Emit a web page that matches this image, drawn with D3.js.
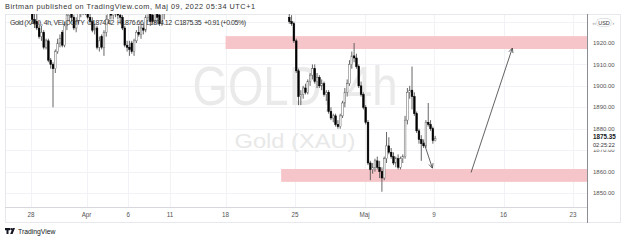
<!DOCTYPE html>
<html>
<head>
<meta charset="utf-8">
<script src="https://cdn.jsdelivr.net/npm/d3@7"></script>
<style>
  body { margin: 0; background: #fff; }
  svg { display: block; font-family: "Liberation Sans", Arial, sans-serif; }
</style>
</head>
<body>
<div id="chart"></div>
<script>
// ---- data ----
const holidays = ["2022-04-15"];
const timeTicks = [
  ["2022-03-28", "28"], ["2022-04-01", "Apr"], ["2022-04-06", "6"], ["2022-04-11", "11"],
  ["2022-04-18", "18"], ["2022-04-25", "25"], ["2022-05-02", "Maj"], ["2022-05-09", "9"],
  ["2022-05-16", "16"], ["2022-05-23", "23"]
];
const priceTicks = [1930, 1920, 1910, 1900, 1890, 1880, 1870, 1860, 1850];

// 4h candles [open, high, low, close]; bars above the pane are clipped
const seg1Start = ["2022-03-28", 0];
const seg1Bars = [
  [1936,1937,1929,1931],[1931,1934,1927,1929],[1930,1934,1926,1927],[1927,1929,1922,1923],[1923,1928,1921,1925],[1925,1926,1917,1918],
  [1918,1922,1917,1921],[1921,1922,1911,1912],[1912,1913,1908,1910],[1910,1911,1890,1908],[1908,1917,1906,1916],[1916,1922,1915,1920],
  [1920,1924,1918,1922],[1925,1926,1918,1919],[1919,1930,1918,1928],[1928,1935,1926,1933],[1933,1938,1930,1935],[1935,1937,1930,1932],
  [1932,1933,1926,1927],[1927,1932,1925,1930],[1930,1936,1929,1934],[1934,1940,1932,1938],[1938,1942,1933,1935],[1935,1940,1933,1937],
  [1937,1938,1931,1932],[1932,1934,1929,1930],[1930,1932,1925,1926],[1926,1929,1924,1927],[1927,1928,1917,1918],[1918,1923,1916,1921],
  [1923,1924,1917,1918],[1918,1926,1914,1925],[1925,1933,1923,1931],[1931,1936,1929,1934],[1934,1938,1931,1933],[1933,1937,1931,1935],
  [1935,1940,1932,1936],[1936,1939,1931,1933],[1933,1936,1929,1932],[1932,1933,1926,1927],[1927,1928,1918,1919],[1919,1921,1916,1918],
  [1918,1921,1914,1917],[1920,1921,1915,1916],[1916,1922,1914,1921],[1921,1926,1920,1925],[1925,1928,1923,1924],[1924,1929,1922,1927],
  [1927,1929,1924,1926],[1926,1933,1925,1932],[1932,1937,1930,1935],[1935,1936,1928,1930],[1933,1935,1929,1930],[1930,1935,1929,1934],
  [1934,1938,1929,1932],[1933,1935,1928,1929],[1929,1935,1928,1934],[1934,1940,1931,1938],[1938,1945,1936,1943]
];
const seg2Start = ["2022-04-22", 3];
const seg2Bars = [
  [1932,1934,1929,1930],[1930,1933,1928,1929],[1929,1930,1920,1921],
  [1921,1922,1906,1907],[1907,1908,1891,1895],[1895,1898,1891,1896],[1896,1900,1894,1899],[1899,1901,1896,1897],[1897,1903,1896,1902],
  [1902,1906,1900,1905],[1905,1910,1903,1908],[1908,1910,1901,1902],[1902,1906,1899,1904],[1904,1905,1899,1900],[1900,1903,1898,1901],
  [1901,1902,1895,1896],[1896,1898,1893,1897],[1897,1898,1887,1888],[1888,1890,1884,1885],[1885,1887,1883,1886],[1886,1887,1881,1882],
  [1882,1884,1880,1881],[1881,1887,1880,1886],[1886,1893,1885,1892],[1892,1899,1890,1897],[1897,1903,1895,1901],[1901,1912,1900,1910],
  [1910,1916,1908,1914],[1914,1920,1911,1913],[1913,1915,1908,1909],[1909,1910,1899,1900],[1900,1902,1895,1896],[1896,1897,1889,1890],
  [1890,1891,1882,1883],[1883,1884,1863,1864],[1864,1865,1856,1861],[1861,1864,1859,1862],[1862,1866,1860,1865],[1865,1867,1861,1862],
  [1862,1865,1857,1860],[1860,1862,1850.6,1857],[1857,1867,1856,1866],[1866,1878.5,1864,1872],[1872,1876,1868,1869],[1869,1871,1866,1867],
  [1867,1869,1863,1864],[1864,1867,1862,1866],[1866,1868,1861,1862],[1862,1867,1861,1866],[1866,1868,1864,1867],[1867,1886,1866,1884],
  [1884,1899,1882,1897],[1897,1900,1894,1898],[1898,1909,1889,1895],[1895,1897,1886,1887],[1887,1888,1878,1879],[1879,1880,1873,1875],
  [1875,1877,1865,1873],[1873,1875,1871,1872],[1872,1884,1871,1883],[1883,1892,1881,1882],[1882,1884,1879,1880],[1880,1881,1873,1874.42],
  [1874.42,1876.66,1874.12,1875.35]
];

// drawn zones [start day, top price, bottom price] extended to the right
const zoneStarts = ["2022-04-18", "2022-04-22"];
const zoneTops = [1923.2, 1861.2];
const zoneBottoms = [1917.2, 1855.2];

// drawn arrows [day, bar, price] -> [day, bar, price]
const arrowFrom = [["2022-05-06", 1, 1874], ["2022-05-11", 3.5, 1859.6]];
const arrowTo = [["2022-05-06", 4.8, 1861.6], ["2022-05-16", 3.3, 1917.6]];

const lastPrice = 1875.35;
const countdown = "02:25:22";
const headerText = "Birtman published on TradingView.com, Maj 09, 2022 05:34 UTC+1";
const legendText = "Gold (XAU), 4h, VELOCITY  O1874.42  H1876.66  L1874.12  C1875.35  +0.91 (+0.05%)";

// ---- layout ----
const W = 625, H = 240;
const pane = { left: 5, right: 587, top: 14, bottom: 207 };
const axisBottom = 222, frameRight = 620;

const fmt = d3.utcFormat("%Y-%m-%d");
const days = d3.utcDay.range(new Date(Date.UTC(2022, 2, 21)), new Date(Date.UTC(2022, 5, 1)))
  .filter(d => d.getUTCDay() !== 0 && d.getUTCDay() !== 6 && !holidays.includes(fmt(d)))
  .map(fmt);
const dayIdx = Object.fromEntries(days.map((d, i) => [d, i]));

const x = d3.scaleLinear()
  .domain([dayIdx["2022-03-28"], dayIdx["2022-05-23"]])
  .range([31, 573]);
const y = d3.scaleLinear().domain([1850, 1920]).range([193, 43]);
const barX = (day, bar) => x(dayIdx[day] + (bar + 0.5) / 6);

const candles = [];
[[seg1Start, seg1Bars], [seg2Start, seg2Bars]].forEach(([start, bars]) => {
  const base = dayIdx[start[0]] * 6 + start[1];
  bars.forEach((b, k) => candles.push({ pos: base + k, o: b[0], h: b[1], l: b[2], c: b[3] }));
});

const svg = d3.select("#chart").append("svg").attr("width", W).attr("height", H);

svg.append("defs").append("clipPath").attr("id", "pane")
  .append("rect").attr("x", pane.left).attr("y", pane.top)
  .attr("width", pane.right - pane.left).attr("height", pane.bottom - pane.top);

// header
svg.append("text").attr("x", 5).attr("y", 9).attr("font-size", 7.3).attr("fill", "#333")
  .attr("textLength", 250).attr("lengthAdjust", "spacing")
  .text(headerText);

// frame + grid
const grid = svg.append("g").attr("clip-path", "url(#pane)");
grid.selectAll(".hg").data(priceTicks).join("line")
  .attr("x1", pane.left).attr("x2", pane.right)
  .attr("y1", d => Math.round(y(d)) + 0.5).attr("y2", d => Math.round(y(d)) + 0.5)
  .attr("stroke", "#f0f2f6");
grid.selectAll(".vg").data(timeTicks).join("line")
  .attr("x1", d => Math.round(x(dayIdx[d[0]])) + 0.5).attr("x2", d => Math.round(x(dayIdx[d[0]])) + 0.5)
  .attr("y1", pane.top).attr("y2", pane.bottom)
  .attr("stroke", "#f0f2f6");

svg.append("rect").attr("x", pane.left + 0.5).attr("y", pane.top + 0.5)
  .attr("width", frameRight - pane.left).attr("height", axisBottom - pane.top)
  .attr("fill", "none").attr("stroke", "#e6e8ee");
svg.append("line").attr("x1", pane.left).attr("x2", pane.right)
  .attr("y1", pane.bottom + 0.5).attr("y2", pane.bottom + 0.5).attr("stroke", "#d6d8de");
svg.append("line").attr("x1", pane.right + 0.5).attr("x2", pane.right + 0.5)
  .attr("y1", pane.top).attr("y2", axisBottom + 1).attr("stroke", "#8a8d94");

// watermark
svg.append("text").attr("x", 295).attr("y", 105).attr("text-anchor", "middle")
  .attr("font-size", 55).attr("fill", "#eaeaea")
  .attr("textLength", 205).attr("lengthAdjust", "spacingAndGlyphs")
  .text("GOLD, 4h");
svg.append("text").attr("x", 295).attr("y", 148).attr("text-anchor", "middle")
  .attr("font-size", 21).attr("fill", "#e8e8e8")
  .attr("textLength", 121).attr("lengthAdjust", "spacingAndGlyphs")
  .text("Gold (XAU)");

// zones
const chart = svg.append("g").attr("clip-path", "url(#pane)");
chart.selectAll(".zone").data(zoneStarts).join("rect")
  .attr("x", d => x(dayIdx[d]))
  .attr("width", d => pane.right - x(dayIdx[d]))
  .attr("y", (d, i) => y(zoneTops[i]))
  .attr("height", (d, i) => y(zoneBottoms[i]) - y(zoneTops[i]))
  .attr("fill", "#f6c5c9");

// legend text (under candles)
svg.append("text").attr("x", 10).attr("y", 25).attr("font-size", 7).attr("fill", "#333")
  .attr("xml:space", "preserve")
  .attr("textLength", 236).attr("lengthAdjust", "spacing")
  .text(legendText);

// candles
const bw = 1.7;
const cg = chart.append("g");
cg.selectAll(".wick").data(candles).join("line")
  .attr("x1", d => x((d.pos + 0.5) / 6)).attr("x2", d => x((d.pos + 0.5) / 6))
  .attr("y1", d => y(d.h)).attr("y2", d => y(d.l))
  .attr("stroke", "#555").attr("stroke-width", 0.9);
cg.selectAll(".body").data(candles).join("rect")
  .attr("x", d => x((d.pos + 0.5) / 6) - bw / 2)
  .attr("width", bw)
  .attr("y", d => y(Math.max(d.o, d.c)))
  .attr("height", d => Math.max(0.8, Math.abs(y(d.o) - y(d.c))))
  .attr("fill", d => d.c >= d.o ? "#fff" : "#000")
  .attr("stroke", d => d.c >= d.o ? "#666" : "#000")
  .attr("stroke-width", 0.5);

// arrows
arrowFrom.forEach((f, i) => {
  const t = arrowTo[i];
  const x1 = barX(f[0], f[1]), y1 = y(f[2]);
  const x2 = barX(t[0], t[1]), y2 = y(t[2]);
  const g = chart.append("g").attr("stroke", "#3a3a3a").attr("stroke-width", 0.8).attr("fill", "none");
  g.append("line").attr("x1", x1).attr("y1", y1).attr("x2", x2).attr("y2", y2);
  const a = Math.atan2(y2 - y1, x2 - x1);
  [Math.PI - 0.45, Math.PI + 0.45].forEach(da => {
    g.append("line").attr("x1", x2).attr("y1", y2)
      .attr("x2", x2 + 5 * Math.cos(a + da)).attr("y2", y2 + 5 * Math.sin(a + da));
  });
});

// price axis
const pa = svg.append("g").attr("font-size", 6).attr("fill", "#555");
pa.selectAll("text").data(priceTicks.filter(p => p !== 1930)).join("text")
  .attr("x", 593).attr("y", d => y(d) + 2.2).text(d => d.toFixed(2));

// last price label, partly covering the 1870 tick
svg.append("rect").attr("x", pane.right + 1).attr("y", y(lastPrice) - 6)
  .attr("width", 30).attr("height", 17).attr("fill", "#fff");
svg.append("text").attr("x", 593).attr("y", y(lastPrice) + 0.5)
  .attr("font-size", 6.3).attr("font-weight", "bold").attr("fill", "#131722")
  .text(lastPrice.toFixed(2));
svg.append("text").attr("x", 593).attr("y", y(lastPrice) + 8)
  .attr("font-size", 5.6).attr("fill", "#333").text(countdown);

// currency badge
svg.append("rect").attr("x", 596.5).attr("y", 18.5).attr("width", 15).attr("height", 8).attr("rx", 4)
  .attr("fill", "#fff").attr("stroke", "#c9ccd3").attr("stroke-width", 0.6);
svg.append("text").attr("x", 604).attr("y", 24.5).attr("text-anchor", "middle")
  .attr("font-size", 5.5).attr("fill", "#333").text("USD");
svg.append("text").attr("x", 592.5).attr("y", 24.5).attr("font-size", 5).attr("fill", "#777").text("‹‹");
svg.append("text").attr("x", 612.5).attr("y", 24.5).attr("font-size", 5).attr("fill", "#777").text("›");

// time axis
svg.append("g").attr("font-size", 6.3).attr("fill", "#555").attr("text-anchor", "middle")
  .selectAll("text").data(timeTicks).join("text")
  .attr("x", d => x(dayIdx[d[0]])).attr("y", 216.5).text(d => d[1]);

// TradingView footer
const logo = svg.append("g").attr("fill", "#131722");
logo.append("path").attr("d", "M5,228h5v2.2h-1.5v3.8h-2v-3.8h-1.5z");
logo.append("circle").attr("cx", 11.3).attr("cy", 229.1).attr("r", 1.1);
logo.append("path").attr("d", "M12.6,228h2.4l-2.4,6h-2.4z");
svg.append("text").attr("x", 18).attr("y", 233.5).attr("font-size", 6.8).attr("fill", "#131722")
  .text("TradingView");
</script>
</body>
</html>
